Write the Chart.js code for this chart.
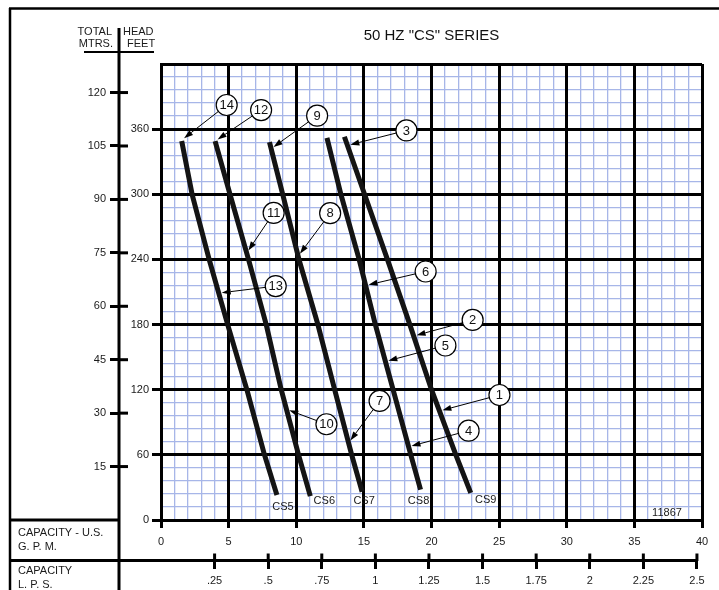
<!DOCTYPE html>
<html>
<head>
<meta charset="utf-8">
<script src="https://cdn.jsdelivr.net/npm/chart.js@4.4.0/dist/chart.umd.min.js"></script>
<style>
  html, body { margin: 0; padding: 0; background: #fff; }
  canvas { display: block; }
</style>
</head>
<body>
<canvas id="pumpChart" width="719" height="590"></canvas>
<script>
// 50 Hz CS series pump curves: capacity in US GPM, head in feet
const curveNames = ['CS5', 'CS6', 'CS7', 'CS8', 'CS9'];
const cs5Gpm  = [1.53, 2.3, 3.56, 4.93, 6.35, 7.65, 8.57];
const cs5Head = [349, 300, 240, 180, 120, 60, 23];
const cs6Gpm  = [4.0, 5.1, 6.47, 7.78, 8.89, 10.17, 11.04];
const cs6Head = [349, 300, 240, 180, 120, 60, 22];
const cs7Gpm  = [8.02, 9.0, 10.2, 11.6, 12.84, 14.1, 14.87];
const cs7Head = [348, 300, 240, 180, 120, 60, 26];
const cs8Gpm  = [12.27, 13.3, 14.65, 15.85, 17.16, 18.47, 19.19];
const cs8Head = [352, 300, 240, 180, 120, 60, 28];
const cs9Gpm  = [13.56, 15.05, 16.74, 18.4, 20.0, 21.8, 22.9];
const cs9Head = [353, 300, 240, 180, 120, 60, 25];

const curveGpm = [cs5Gpm, cs6Gpm, cs7Gpm, cs8Gpm, cs9Gpm];
const curveHead = [cs5Head, cs6Head, cs7Head, cs8Head, cs9Head];

// numbered callouts: [number, curve index, head (ft) where the arrow hits]
const callouts = [
  [14, 0, 350], [13, 0, 209],
  [12, 1, 349], [11, 1, 246], [10, 1, 102],
  [9, 2, 342], [8, 2, 243], [7, 2, 71],
  [6, 3, 216], [5, 3, 146], [4, 3, 67.5],
  [3, 4, 345], [2, 4, 169.5], [1, 4, 100.4]
];

const title = '50 HZ "CS" SERIES';
const drawingNo = '11867';

const GPM_PER_LPS = 15.850323;
const FT_PER_M = 3.28084;

const FONT = "'Liberation Sans', Arial, sans-serif";
const BLUE = '#a7b6e8';
Chart.defaults.font.family = FONT;
Chart.defaults.color = '#1a1a1a';

// circle position relative to the arrow point, in px
const calloutOffset = {
  14: [45, -35], 12: [46, -31], 9: [46, -33], 3: [59, -15],
  11: [27, -40], 8: [32, -43], 6: [60, -14], 2: [59, -16],
  5: [60, -16], 1: [60, -16], 4: [60, -16], 7: [31, -42],
  10: [40, 15], 13: [57, -7]
};
// curve name position relative to the last point, in px
const nameOffset = [[6, 12], [14, 5], [2, 9], [-2, 11], [15, 7]];

function gpmAtHead(ci, head) {
  const xs = curveGpm[ci], ys = curveHead[ci];
  for (let i = 0; i < ys.length - 1; i++) {
    if (head <= ys[i] && head >= ys[i + 1]) {
      const t = (ys[i] - head) / (ys[i] - ys[i + 1]);
      return xs[i] + t * (xs[i + 1] - xs[i]);
    }
  }
  return head > ys[0] ? xs[0] : xs[xs.length - 1];
}

function line(ctx, x1, y1, x2, y2, w) {
  ctx.lineWidth = w;
  ctx.beginPath();
  ctx.moveTo(x1, y1);
  ctx.lineTo(x2, y2);
  ctx.stroke();
}

const sheetPlugin = {
  id: 'sheet',
  afterDraw(chart) {
    const ctx = chart.ctx;
    const m = chart.scales.m, lps = chart.scales.lps;
    ctx.save();
    ctx.strokeStyle = '#000';
    ctx.lineCap = 'butt';

    // outer frame
    line(ctx, 9, 8.5, 719, 8.5, 2.5);
    line(ctx, 10, 8, 10, 590, 2.5);
    // metres axis line and box lines
    line(ctx, 119, 28, 119, 590, 3);
    line(ctx, 84, 52, 154, 52, 2);
    line(ctx, 10, 520, 119, 520, 3);
    line(ctx, 10, 560.5, lps.getPixelForValue(2.5), 560.5, 3);

    // metres ticks cross the axis line
    m.ticks.forEach(t => {
      if (t.value === 0) return;
      const py = m.getPixelForValue(t.value);
      line(ctx, 119, py, 128, py, 3);
    });
    // lps ticks reach above the line too
    lps.ticks.forEach(t => {
      if (t.value === 0) return;
      const px = lps.getPixelForValue(t.value);
      line(ctx, px, 553.5, px, 561, 3);
    });

    ctx.fillStyle = '#1a1a1a';
    ctx.font = '11px ' + FONT;
    ctx.textBaseline = 'middle';
    ctx.textAlign = 'right';
    ctx.fillText('TOTAL', 112, 32);
    ctx.fillText('MTRS.', 113, 43.5);
    ctx.textAlign = 'left';
    ctx.fillText('HEAD', 123, 32);
    ctx.fillText('FEET', 127, 43.5);
    ctx.fillText('CAPACITY - U.S.', 18, 533);
    ctx.fillText('G. P. M.', 18, 547);
    ctx.fillText('CAPACITY', 18, 571);
    ctx.fillText('L. P. S.', 18, 585);
    ctx.textAlign = 'center';
    ctx.fillText(drawingNo, 667, 513);
    ctx.restore();
  }
};

const calloutPlugin = {
  id: 'callouts',
  afterDatasetsDraw(chart) {
    const ctx = chart.ctx;
    const x = chart.scales.x, y = chart.scales.y;
    ctx.save();

    // curve names at the low end of each curve
    ctx.fillStyle = '#1a1a1a';
    ctx.font = '11px ' + FONT;
    ctx.textAlign = 'center';
    ctx.textBaseline = 'middle';
    curveNames.forEach((name, i) => {
      const n = curveGpm[i].length - 1;
      const px = x.getPixelForValue(curveGpm[i][n]) + nameOffset[i][0];
      const py = y.getPixelForValue(curveHead[i][n]) + nameOffset[i][1];
      ctx.fillText(name, px, py);
    });

    const R = 10.5;
    callouts.forEach(([num, ci, head]) => {
      const tx = x.getPixelForValue(gpmAtHead(ci, head));
      const ty = y.getPixelForValue(head);
      const off = calloutOffset[num];
      const cx = tx + off[0], cy = ty + off[1];
      const a = Math.atan2(ty - cy, tx - cx);
      const cos = Math.cos(a), sin = Math.sin(a);
      const ex = tx - 3 * cos, ey = ty - 3 * sin;
      const hl = 9, hw = 3;
      ctx.strokeStyle = '#000';
      ctx.fillStyle = '#000';
      line(ctx, cx + R * cos, cy + R * sin, ex - hl * cos, ey - hl * sin, 1);
      ctx.beginPath();
      ctx.moveTo(ex, ey);
      ctx.lineTo(ex - hl * cos - hw * sin, ey - hl * sin + hw * cos);
      ctx.lineTo(ex - hl * cos + hw * sin, ey - hl * sin - hw * cos);
      ctx.closePath();
      ctx.fill();

      ctx.beginPath();
      ctx.arc(cx, cy, R, 0, Math.PI * 2);
      ctx.fillStyle = '#fff';
      ctx.fill();
      ctx.lineWidth = 1.2;
      ctx.stroke();
      ctx.fillStyle = '#111';
      ctx.font = '13px ' + FONT;
      ctx.fillText(String(num), cx, cy + 0.5);
    });
    ctx.restore();
  }
};

const major = (v, step) => Math.abs(v / step - Math.round(v / step)) < 1e-6;

const ctx = document.getElementById('pumpChart').getContext('2d');
new Chart(ctx, {
  type: 'line',
  data: {
    datasets: curveNames.map((name, i) => ({
      label: name,
      data: curveGpm[i].map((g, j) => ({ x: g, y: curveHead[i][j] })),
      xAxisID: 'x',
      yAxisID: 'y',
      borderColor: '#141414',
      borderWidth: 5,
      borderCapStyle: 'butt',
      borderJoinStyle: 'round',
      pointRadius: 0,
      tension: 0,
      fill: false
    }))
  },
  options: {
    responsive: false,
    animation: false,
    devicePixelRatio: 1,
    layout: { padding: { left: 59, right: 17, top: 10, bottom: 0 } },
    plugins: {
      legend: { display: false },
      tooltip: { enabled: false },
      title: {
        display: true,
        text: title,
        fullSize: false,
        color: '#111',
        font: { size: 15, weight: 'normal' },
        padding: { top: 17, bottom: 19 }
      }
    },
    scales: {
      x: {
        type: 'linear', position: 'bottom', weight: 0, min: 0, max: 40,
        ticks: { stepSize: 1, autoSkip: false, maxRotation: 0, padding: 7, font: { size: 11 },
          callback: v => major(v, 5) ? String(v) : '' },
        grid: {
          color: c => major(c.tick.value, 5) ? '#000' : 'rgba(0,0,0,0)',
          lineWidth: 3, tickLength: 8, tickWidth: 3,
          tickColor: c => major(c.tick.value, 5) ? '#000' : 'rgba(0,0,0,0)'
        },
        border: { display: true, color: '#000', width: 3 },
        afterFit: s => { s.height = 40.5; }
      },
      lps: {
        type: 'linear', axis: 'x', position: 'bottom', weight: 1, min: 0, max: 40 / GPM_PER_LPS,
        ticks: { stepSize: 0.25, autoSkip: false, includeBounds: false, maxRotation: 0, padding: 5, font: { size: 11 },
          callback: v => v === 0 ? '' : (v < 1 ? String(v).replace(/^0/, '') : String(v)) },
        grid: { drawOnChartArea: false, tickLength: 8.5, tickWidth: 3,
          tickColor: c => c.tick.value === 0 ? 'rgba(0,0,0,0)' : '#000' },
        border: { display: false },
        afterFit: s => { s.height = 29.5; }
      },
      y: {
        type: 'linear', position: 'left', weight: 0, min: 0, max: 420,
        ticks: { stepSize: 12, autoSkip: false, padding: 3, font: { size: 11 },
          callback: v => major(v, 60) && v < 420 ? String(v) : '' },
        grid: {
          color: c => major(c.tick.value, 60) ? '#000' : 'rgba(0,0,0,0)',
          lineWidth: 3, tickLength: 9, tickWidth: 3,
          tickColor: c => major(c.tick.value, 60) && c.tick.value < 420 ? '#000' : 'rgba(0,0,0,0)'
        },
        border: { display: true, color: '#000', width: 3 },
        afterFit: s => { s.width = 42; }
      },
      m: {
        type: 'linear', axis: 'y', position: 'left', weight: 1, min: 0, max: 420 / FT_PER_M,
        ticks: { stepSize: 15, autoSkip: false, includeBounds: false, padding: 4, font: { size: 11 },
          callback: v => v === 0 ? '' : String(v) },
        grid: { drawOnChartArea: false, tickLength: 9, tickWidth: 3,
          tickColor: c => c.tick.value === 0 ? 'rgba(0,0,0,0)' : '#000' },
        border: { display: false },
        afterFit: s => { s.width = 60; }
      },
      xMinor: {
        type: 'linear', axis: 'x', position: 'bottom', weight: -1, min: 0, max: 40,
        ticks: { display: false, stepSize: 1, autoSkip: false },
        grid: { z: -2, drawTicks: false, lineWidth: 1.3,
          color: c => major(c.tick.value, 5) ? 'rgba(0,0,0,0)' : BLUE },
        border: { display: false },
        afterFit: s => { s.height = 0; }
      },
      yMinor: {
        type: 'linear', axis: 'y', position: 'left', weight: -1, min: 0, max: 420,
        ticks: { display: false, stepSize: 12, autoSkip: false },
        grid: { z: -2, drawTicks: false, lineWidth: 1.3,
          color: c => major(c.tick.value, 60) ? 'rgba(0,0,0,0)' : BLUE },
        border: { display: false },
        afterFit: s => { s.width = 0; }
      }
    }
  },
  plugins: [sheetPlugin, calloutPlugin]
});
</script>
</body>
</html>
